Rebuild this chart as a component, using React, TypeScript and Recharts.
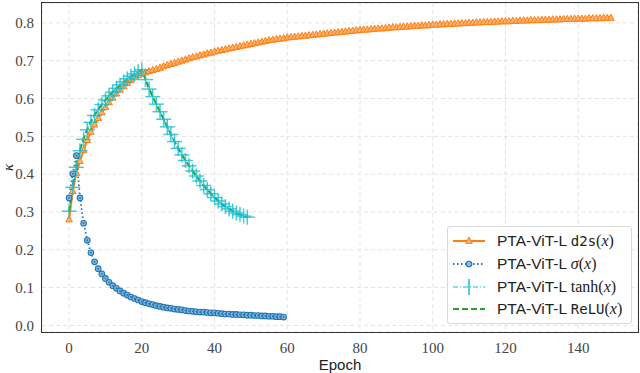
import React from 'react';
import { LineChart, Line, XAxis, YAxis, CartesianGrid } from 'recharts';

// 값은 그림에서 읽은 추정치 (epoch 0부터 순서대로)
const d2sValues = [
    0.280, 0.355, 0.403, 0.434, 0.463, 0.490, 0.512, 0.531, 0.548, 0.563,
    0.577, 0.590, 0.602, 0.613, 0.623, 0.632, 0.641, 0.649, 0.656, 0.662,
    0.667, 0.669, 0.672, 0.675, 0.678, 0.681, 0.685, 0.688, 0.691, 0.694,
    0.697, 0.700, 0.703, 0.706, 0.709, 0.711, 0.714, 0.716, 0.719, 0.721,
    0.724, 0.726, 0.728, 0.730, 0.732, 0.734, 0.736, 0.738, 0.740, 0.742,
    0.744, 0.746, 0.748, 0.750, 0.752, 0.754, 0.755, 0.757, 0.758, 0.759,
    0.761, 0.762, 0.763, 0.764, 0.765, 0.766, 0.767, 0.768, 0.769, 0.770,
    0.771, 0.772, 0.773, 0.774, 0.775, 0.776, 0.777, 0.778, 0.779, 0.780,
    0.781, 0.782, 0.782, 0.783, 0.784, 0.785, 0.785, 0.786, 0.787, 0.788,
    0.788, 0.789, 0.790, 0.790, 0.791, 0.792, 0.792, 0.793, 0.793, 0.794,
    0.795, 0.795, 0.796, 0.796, 0.797, 0.797, 0.798, 0.798, 0.799, 0.799,
    0.800, 0.800, 0.801, 0.801, 0.802, 0.802, 0.802, 0.803, 0.803, 0.804,
    0.804, 0.804, 0.805, 0.805, 0.806, 0.806, 0.806, 0.807, 0.807, 0.807,
    0.808, 0.808, 0.808, 0.809, 0.809, 0.809, 0.810, 0.810, 0.810, 0.811,
    0.811, 0.811, 0.811, 0.812, 0.812, 0.812, 0.812, 0.813, 0.813, 0.813,
];

const sigmoidValues = [
    0.337, 0.401, 0.449, 0.337, 0.270, 0.225, 0.192, 0.168, 0.150, 0.136,
    0.124, 0.114, 0.105, 0.098, 0.091, 0.085, 0.080, 0.075, 0.071, 0.067,
    0.063, 0.060, 0.057, 0.055, 0.052, 0.050, 0.048, 0.046, 0.045, 0.043,
    0.042, 0.041, 0.039, 0.038, 0.037, 0.036, 0.035, 0.035, 0.034, 0.033,
    0.033, 0.032, 0.031, 0.030, 0.030, 0.029, 0.029, 0.028, 0.028, 0.027,
    0.027, 0.026, 0.026, 0.025, 0.025, 0.024, 0.024, 0.023, 0.023, 0.022,
];

const tanhValues = [
    0.302, 0.365, 0.418, 0.462, 0.492, 0.517, 0.537, 0.555, 0.570, 0.584,
    0.596, 0.607, 0.617, 0.627, 0.636, 0.644, 0.652, 0.659, 0.665, 0.671,
    0.676, 0.650, 0.625, 0.605, 0.585, 0.565, 0.545, 0.525, 0.505, 0.486,
    0.468, 0.451, 0.436, 0.422, 0.408, 0.395, 0.382, 0.370, 0.359, 0.348,
    0.338, 0.329, 0.321, 0.314, 0.308, 0.302, 0.297, 0.293, 0.289, 0.286,
];

const reluValues = [
    0.300, 0.372, 0.424, 0.464, 0.495, 0.519, 0.539, 0.556, 0.571, 0.584,
    0.596, 0.607, 0.617, 0.626, 0.635, 0.643, 0.651, 0.658, 0.664, 0.670,
    0.676, 0.651, 0.626, 0.605, 0.585, 0.565, 0.545, 0.525, 0.505, 0.486,
    0.468, 0.451, 0.436, 0.422, 0.408, 0.395, 0.382, 0.370, 0.359, 0.348,
    0.338, 0.329, 0.321, 0.314, 0.308, 0.302, 0.297, 0.293, 0.289, 0.286,
];

const xTicks = [0, 20, 40, 60, 80, 100, 120, 140];
const yTicks = [0, 0.1, 0.2, 0.3, 0.4, 0.5, 0.6, 0.7, 0.8];
const xDomain: [number, number] = [-7.45, 156.45];
const yDomain: [number, number] = [-0.0176, 0.8526];

const colors = {
    d2s: '#ff7f0e',
    sigmoid: '#1f77b4',
    tanh: '#17becf',
    relu: '#2ca02c',
};

const data = d2sValues.map((v, i) => ({
    epoch: i,
    d2s: v,
    sigmoid: sigmoidValues[i],
    tanh: tanhValues[i],
    relu: reluValues[i],
}));

const serif = '"Liberation Serif", "DejaVu Serif", serif';
const sans = '"Liberation Sans", Arial, sans-serif';
const mono = '"DejaVu Sans Mono", "Liberation Mono", monospace';

// 마커들
const TriangleDot = (p: any) => {
    const { cx, cy, index, value } = p;
    if (cx == null || cy == null || value == null) return <g key={`t${index}`} />;
    return (
        <path
            key={`t${index}`}
            d={`M${cx},${cy - 3.8} L${cx + 3.3},${cy + 2.4} L${cx - 3.3},${cy + 2.4} Z`}
            fill="#ffb273"
            stroke={colors.d2s}
            strokeWidth={1}
        />
    );
};

const CircleDot = (p: any) => {
    const { cx, cy, index, value } = p;
    if (cx == null || cy == null || value == null) return <g key={`c${index}`} />;
    return (
        <g key={`c${index}`}>
            <circle cx={cx} cy={cy} r={2.8} fill="#8fb9dd" stroke={colors.sigmoid} strokeWidth={1.1} />
            <circle cx={cx} cy={cy} r={1} fill={colors.sigmoid} />
        </g>
    );
};

const CrossDot = (p: any) => {
    const { cx, cy, index, value } = p;
    if (cx == null || cy == null || value == null) return <g key={`x${index}`} />;
    return (
        <g key={`x${index}`} stroke={colors.tanh} strokeWidth={1.5} strokeOpacity={0.8}>
            <line x1={cx - 7.5} y1={cy} x2={cx + 7.5} y2={cy} />
            <line x1={cx} y1={cy - 7.5} x2={cx} y2={cy + 7.5} />
        </g>
    );
};

// 눈금 라벨 (serif)
const tickText = { fontFamily: serif, fontSize: 15, fill: '#444' };

const XTick = (p: any) => (
    <text x={p.x} y={p.y} dy="0.71em" textAnchor="middle" style={tickText}>
        {p.payload.value}
    </text>
);

const YTick = (p: any) => (
    <text x={p.x} y={p.y} dy="0.355em" textAnchor="end" style={tickText}>
        {Number(p.payload.value).toFixed(1)}
    </text>
);

const MathX = () => <span style={{ fontFamily: serif, fontSize: 16 }}>(<i>x</i>)</span>;

function ChartLegend() {
    const rows = [
        {
            icon: (
                <svg width={34} height={14}>
                    <line x1={1} y1={7} x2={33} y2={7} stroke={colors.d2s} strokeWidth={2} />
                    <path d="M17,3 L20.3,9.4 L13.7,9.4 Z" fill="#ffb273" stroke={colors.d2s} />
                </svg>
            ),
            label: <span style={{ fontFamily: mono, fontSize: 14 }}>d2s</span>,
        },
        {
            icon: (
                <svg width={34} height={14}>
                    <line x1={1} y1={7} x2={33} y2={7} stroke={colors.sigmoid} strokeWidth={1.8} strokeDasharray="1.5 2.5" />
                    <circle cx={17} cy={7} r={2.8} fill="#8fb9dd" stroke={colors.sigmoid} strokeWidth={1.1} />
                </svg>
            ),
            label: <i style={{ fontFamily: serif, fontSize: 16 }}>σ</i>,
        },
        {
            icon: (
                <svg width={34} height={18}>
                    <line x1={1} y1={9} x2={33} y2={9} stroke={colors.tanh} strokeWidth={1.2} strokeDasharray="5 2 1 2" />
                    <line x1={17} y1={1} x2={17} y2={17} stroke={colors.tanh} strokeWidth={1.5} />
                </svg>
            ),
            label: <span style={{ fontFamily: serif, fontSize: 16 }}>tanh</span>,
        },
        {
            icon: (
                <svg width={34} height={14}>
                    <line x1={1} y1={7} x2={33} y2={7} stroke={colors.relu} strokeWidth={2} strokeDasharray="6 3" />
                </svg>
            ),
            label: <span style={{ fontFamily: mono, fontSize: 14 }}>ReLU</span>,
        },
    ];
    return (
        <div
            style={{
                position: 'absolute',
                left: 447,
                top: 226,
                width: 185,
                height: 98,
                border: '1px solid #d8d8d8',
                borderRadius: 3,
                background: 'rgba(255,255,255,0.85)',
                boxSizing: 'border-box',
                padding: '3px 0 0 3px',
            }}
        >
            {rows.map((r, i) => (
                <div key={i} style={{ display: 'flex', alignItems: 'center', height: 22.7, color: '#222' }}>
                    <div style={{ width: 36, display: 'flex', justifyContent: 'center' }}>{r.icon}</div>
                    <span style={{ marginLeft: 10, fontFamily: sans, fontSize: 15.5, whiteSpace: 'nowrap' }}>
                        PTA-ViT-L {r.label}
                        <MathX />
                    </span>
                </div>
            ))}
        </div>
    );
}

export default function App() {
    return (
        <div style={{ position: 'absolute', left: 0, top: 0, width: 640, height: 373, background: '#fff' }}>
            <LineChart width={640} height={373} data={data} margin={{ top: 3, right: 2, left: 0, bottom: 0 }}>
                <CartesianGrid stroke="#e3e3e3" strokeDasharray="4 3" strokeWidth={1} />
                <XAxis
                    dataKey="epoch"
                    type="number"
                    domain={xDomain}
                    ticks={xTicks}
                    allowDataOverflow
                    height={41}
                    tickLine={false}
                    tickMargin={4}
                    axisLine={false}
                    tick={XTick}
                    label={{ value: 'Epoch', position: 'insideBottom', offset: 3, style: { fontFamily: sans, fontSize: 15, fill: '#222' } }}
                />
                <YAxis
                    type="number"
                    domain={yDomain}
                    ticks={yTicks}
                    allowDataOverflow
                    width={42}
                    tickLine={false}
                    axisLine={false}
                    tick={YTick}
                    label={(props: any) => {
                        const vb = props.viewBox || { x: 0, y: 3, width: 42, height: 329 };
                        const x = vb.x + 8;
                        const y = vb.y + vb.height / 2;
                        return (
                            <text
                                x={x}
                                y={y}
                                transform={`rotate(-90 ${x} ${y})`}
                                textAnchor="middle"
                                dominantBaseline="central"
                                style={{ fontFamily: serif, fontSize: 15, fontStyle: 'italic', fill: '#222' }}
                            >
                                κ
                            </text>
                        );
                    }}
                />
                <Line
                    dataKey="d2s"
                    stroke={colors.d2s}
                    strokeWidth={2}
                    dot={TriangleDot}
                    activeDot={false}
                    isAnimationActive={false}
                    type="linear"
                />
                <Line
                    dataKey="sigmoid"
                    stroke={colors.sigmoid}
                    strokeWidth={1.8}
                    strokeDasharray="1.5 2.5"
                    dot={CircleDot}
                    activeDot={false}
                    isAnimationActive={false}
                    type="linear"
                />
                <Line
                    dataKey="tanh"
                    stroke={colors.tanh}
                    strokeWidth={1.2}
                    strokeDasharray="5 2 1 2"
                    dot={CrossDot}
                    activeDot={false}
                    isAnimationActive={false}
                    type="linear"
                />
                <Line
                    dataKey="relu"
                    stroke={colors.relu}
                    strokeWidth={2}
                    strokeDasharray="6 3"
                    dot={false}
                    activeDot={false}
                    isAnimationActive={false}
                    type="linear"
                />
            </LineChart>
            {/* 플롯 테두리 */}
            <div
                style={{
                    position: 'absolute',
                    left: 41.25,
                    top: 2.25,
                    width: 597.5,
                    height: 330.5,
                    border: '1.5px solid #333',
                    boxSizing: 'border-box',
                    pointerEvents: 'none',
                }}
            />
            <ChartLegend />
        </div>
    );
}
